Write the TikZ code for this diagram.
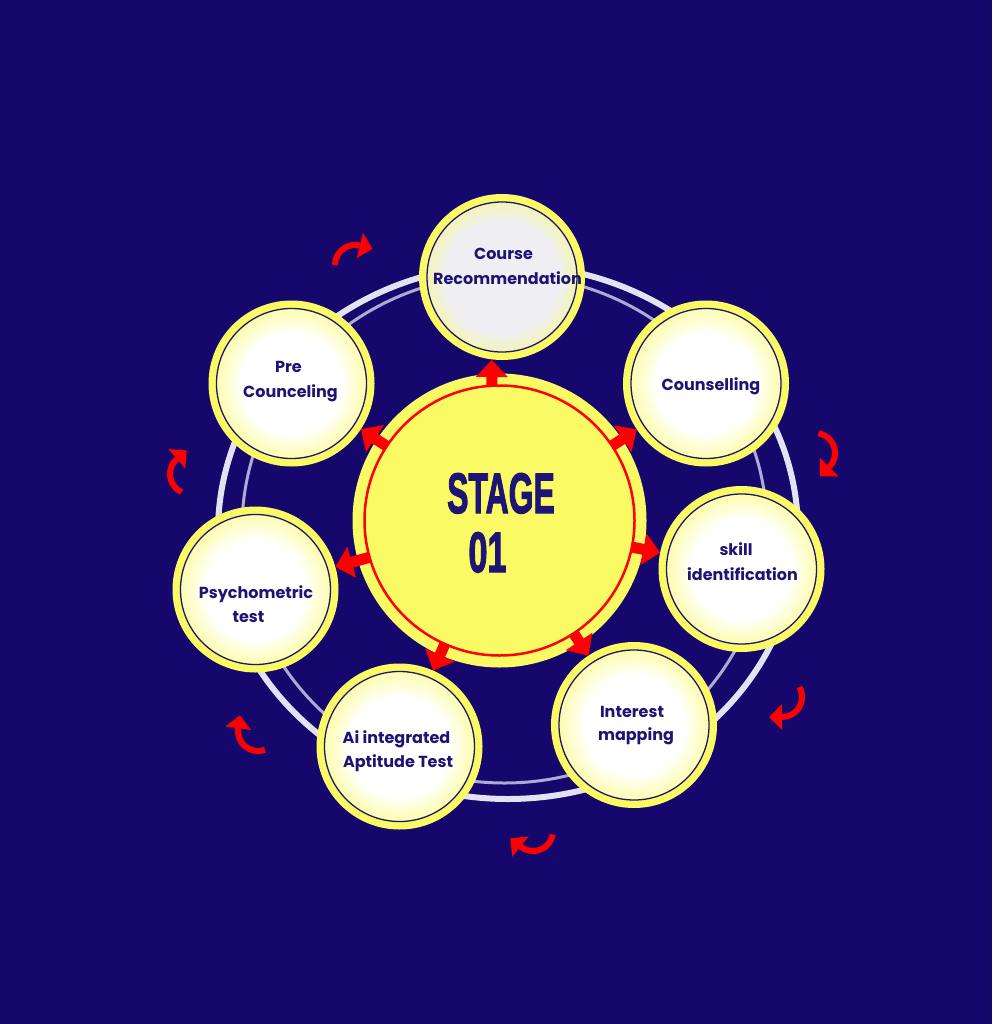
\documentclass[tikz,border=0pt]{standalone}
\usepackage{fontspec}
\setmainfont{Liberation Sans}
\newfontfamily\cf{Poppins}
\newfontfamily\heavy{Liberation Sans}[BoldFeatures={FakeBold=2.5}]
\usetikzlibrary{arrows.meta,calc}
\definecolor{bg}{RGB}{21,7,107}
\definecolor{yel}{RGB}{250,251,100}
\definecolor{navy}{RGB}{30,20,115}
\definecolor{ringw}{RGB}{228,226,242}
\definecolor{ringg}{RGB}{175,170,212}
\definecolor{pale}{RGB}{239,239,243}
\pgfdeclareradialshading{glow}{\pgfpoint{0bp}{0bp}}{color(0bp)=(white); color(15bp)=(white); color(25bp)=(yel!70!white); color(50bp)=(yel!70!white)}
\pgfdeclareradialshading{glowgray}{\pgfpoint{0bp}{0bp}}{color(0bp)=(pale); color(17bp)=(pale); color(25bp)=(yel!60!pale); color(50bp)=(yel!60!pale)}
\newcommand\carrow[5]{% name cx cy a1 a2
  \coordinate (#1) at (#2,#3);
  \draw[red, line width=6pt] ($(#1)+(#4:20)$) arc[start angle=#4, end angle=#5, radius=20];
  \fill[red] ($(#1)+(#5:33)$) -- ($(#1)+(#5:20)+(#5+90:13)$) -- ($(#1)+(#5:7)$) -- cycle;
}
\begin{document}
\begin{tikzpicture}[x=1pt,y=-1pt,
  smallc/.style={circle, fill=yel, minimum size=166pt, inner sep=0pt,
    path picture={\shade[shading=#1] (path picture bounding box.center) circle[radius=75pt];
      \draw[navy, line width=1.3pt] (path picture bounding box.center) circle[radius=75pt];}},
  smallc/.default=glow,
  ctext/.style={font=\cf\bfseries\fontsize{16}{19}\selectfont, text=navy, anchor=base, inner sep=0pt},
  bigtext/.style={font=\heavy\fontsize{57}{60}\selectfont\bfseries, text=navy, anchor=base, inner sep=0pt},
  bigarrow/.style={red, line width=11pt, -{Triangle[width=31pt,length=17pt]}, shorten <=135pt, shorten >=83pt}]
\fill[bg] (0,0) rectangle (992,1024);
\useasboundingbox (0,0) rectangle (992,1024);
% rings
\draw[ringw, line width=6pt] (508,532) ellipse [x radius=290, y radius=267];
\draw[ringg, line width=3pt] (504.5,529) ellipse [x radius=262.5, y radius=254];
% small circles
\node[smallc=glowgray] (course) at (502,277) {};
\node[smallc] (coun) at (706,383.5) {};
\node[smallc] (skill) at (741.5,569) {};
\node[smallc] (inter) at (634,725) {};
\node[smallc] (ai) at (399.5,746.5) {};
\node[smallc] (psy) at (255.5,589.5) {};
\node[smallc] (pre) at (291.5,383.5) {};
% main circle
\node[circle, fill=yel, minimum size=294pt, inner sep=0pt] (M) at (499.5,520.5) {};
\draw[red, line width=2.5pt] (M.center) circle[radius=135pt];
% arrows
\foreach \n in {pre,coun,skill,inter,ai,psy} \draw[bigarrow] (M.center) -- (\n.center);
\draw[bigarrow] ([xshift=-8pt]M.center) -- ([xshift=-10pt]course.center);
% curved arrows
\carrow{c1}{355}{265}{180}{284}
\carrow{c2}{190}{474}{115}{229}
\carrow{c3}{258}{731}{70}{188}
\carrow{c4}{533}{831}{10}{129}
\carrow{c5}{782}{697}{-30}{90}
\carrow{c6}{815}{453}{-80}{45}
% texts
\node[bigtext] (stage) at (501,513) {\scalebox{0.56}[1]{STAGE}};
\node[bigtext] (num) at (487.5,572) {\scalebox{0.6}[1]{01}};
\node[ctext] (t1a) at (503.5,259) {Course};
\node[ctext] (t1b) at (507.5,284) {Recommendation};
\node[ctext] (t2) at (711,390) {Counselling};
\node[ctext] (t3a) at (736,555) {skill};
\node[ctext] (t3b) at (742.5,580) {identification};
\node[ctext] (t4a) at (632,717) {Interest};
\node[ctext] (t4b) at (636,740) {mapping};
\node[ctext] (t5a) at (396.5,743) {Ai integrated};
\node[ctext] (t5b) at (398,767) {Aptitude Test};
\node[ctext] (t6a) at (256,598) {Psychometric};
\node[ctext] (t6b) at (248.5,622) {test};
\node[ctext] (t7a) at (288.5,372) {Pre};
\node[ctext] (t7b) at (290.5,397) {Counceling};
\end{tikzpicture}
\end{document}
